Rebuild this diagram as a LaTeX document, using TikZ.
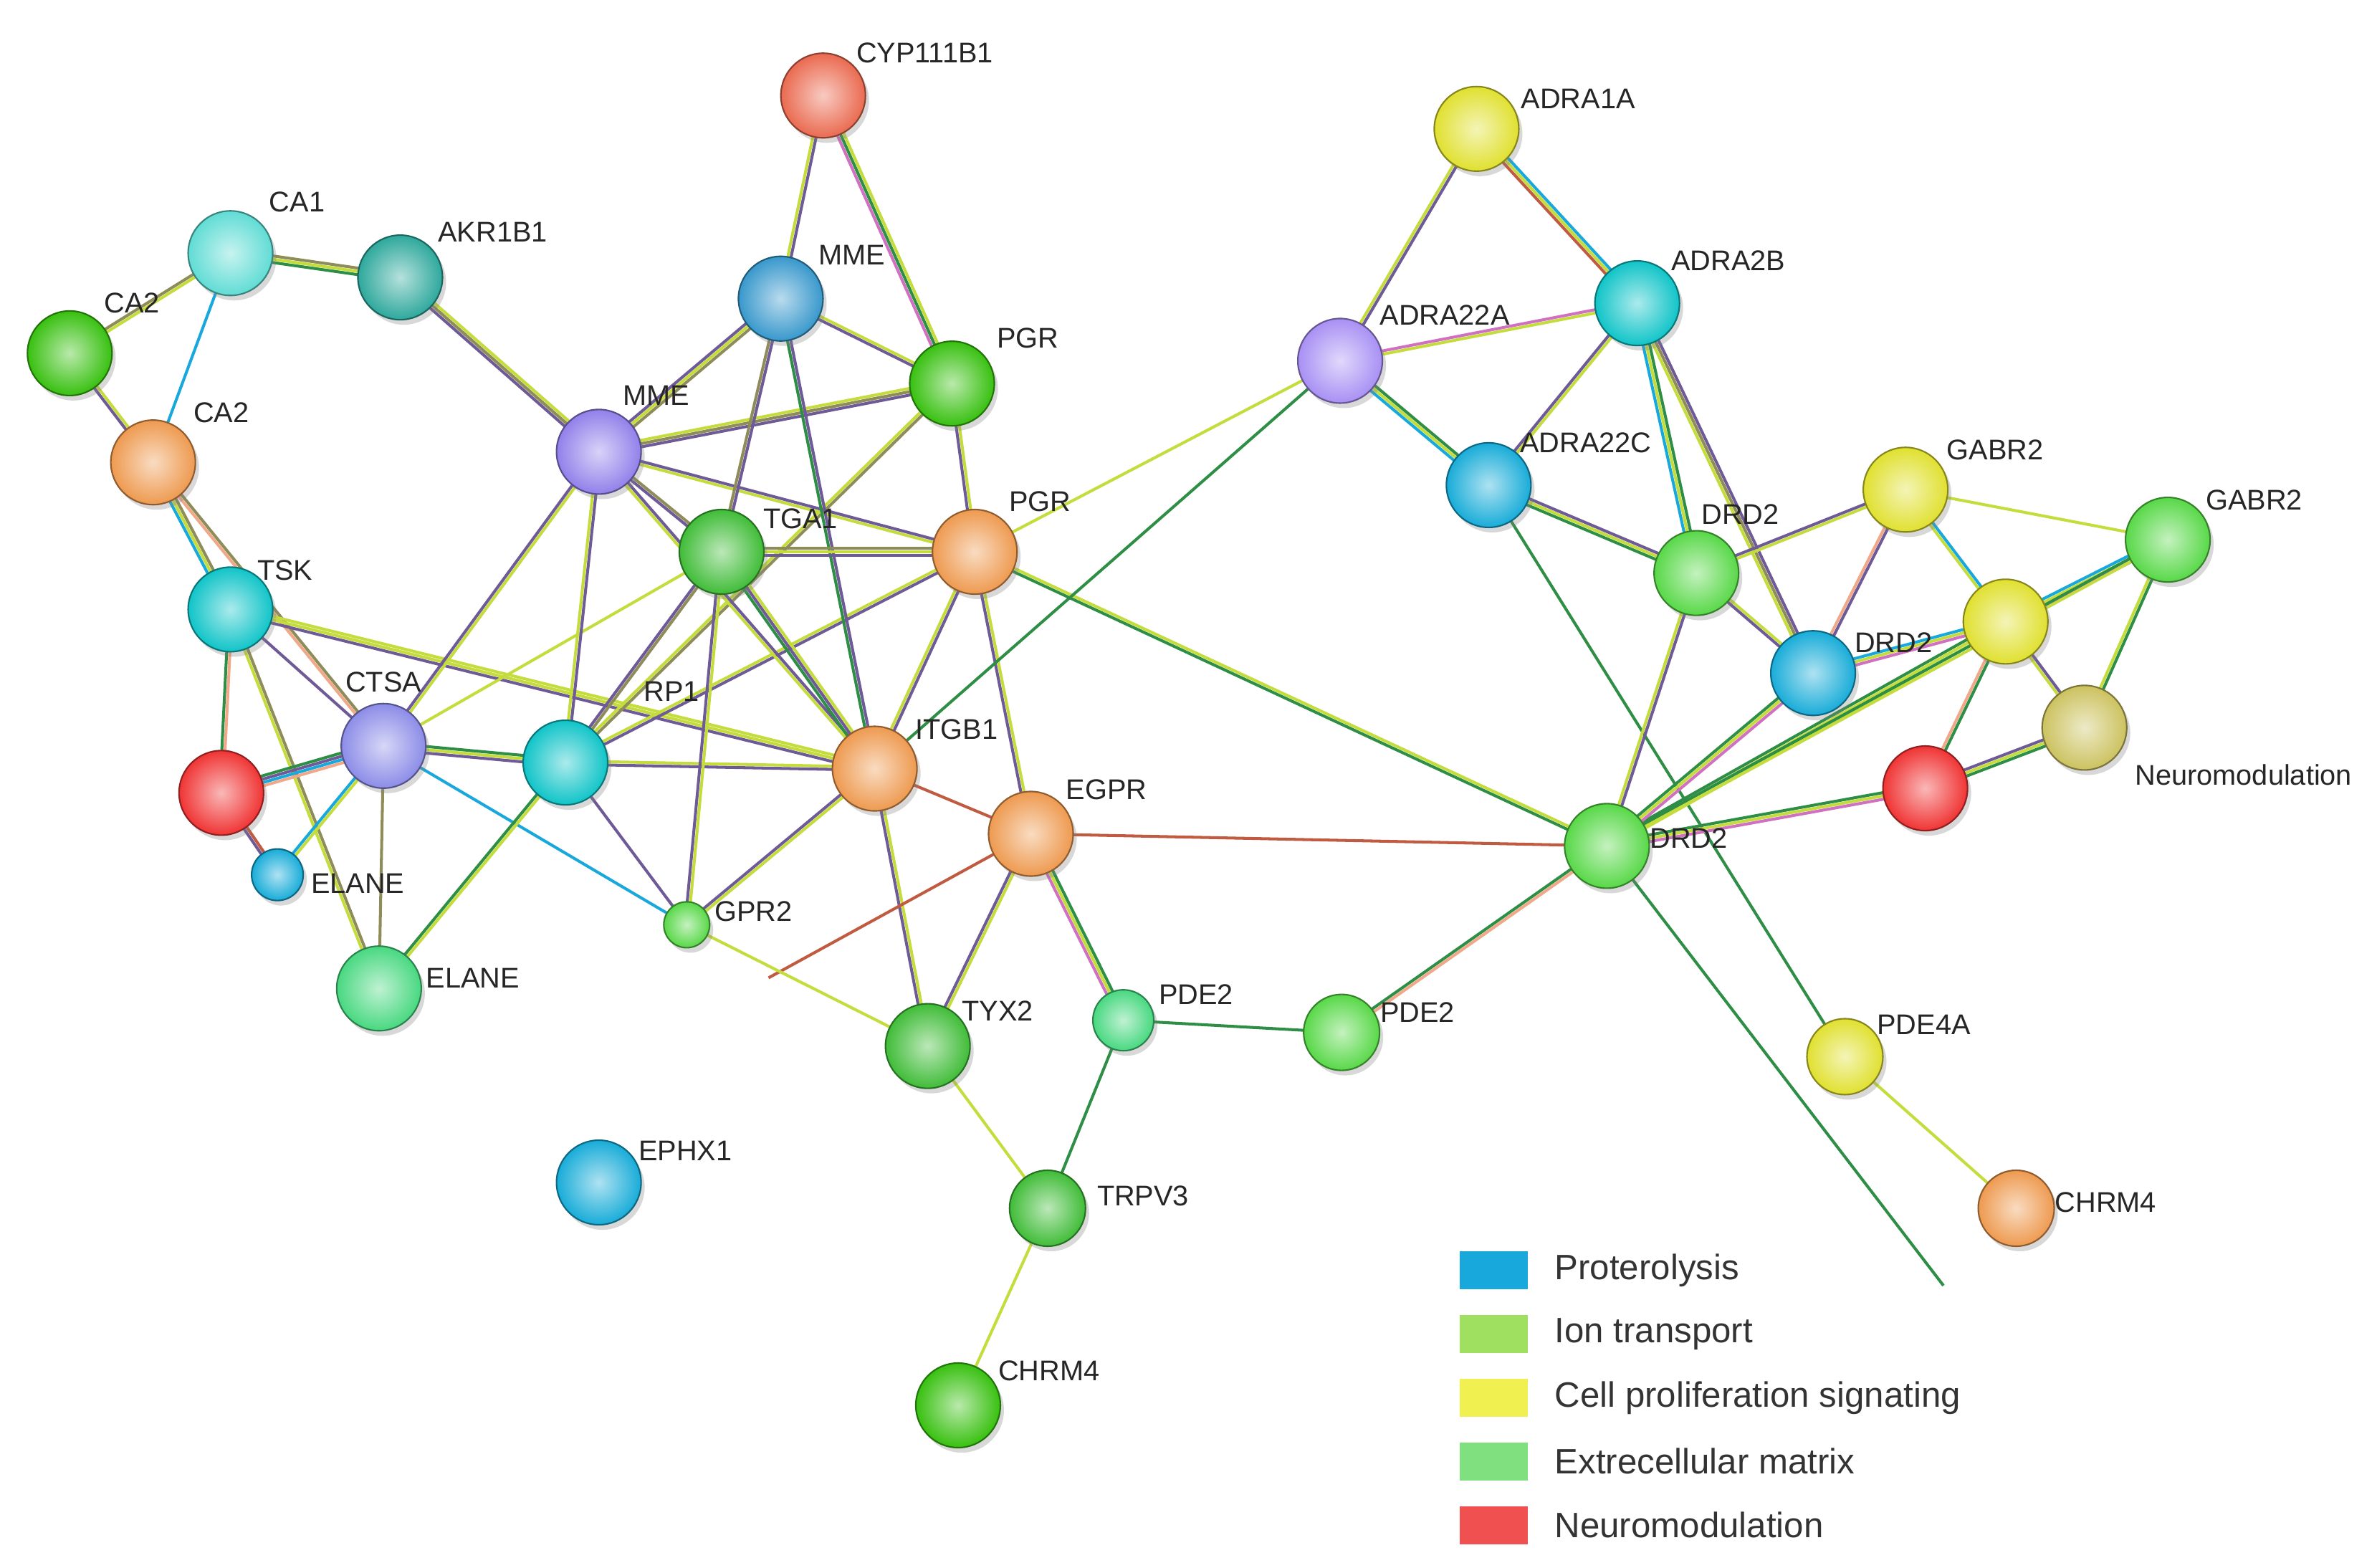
\documentclass[tikz,border=0pt]{standalone}
\usepackage{fontspec}
\setsansfont{Liberation Sans}
\usetikzlibrary{positioning,calc,backgrounds,shadows}

\definecolor{lblue}{HTML}{18A8DC}
\definecolor{lyel}{HTML}{C4DC3C}
\definecolor{lpurp}{HTML}{6E5A96}
\definecolor{ldgreen}{HTML}{2E8E46}
\definecolor{lbrown}{HTML}{C05A40}
\definecolor{lpink}{HTML}{D070C0}
\definecolor{lolive}{HTML}{8E8C58}
\definecolor{lsalm}{HTML}{F0A888}
% node colours
\definecolor{nsalmon}{HTML}{EA6A50}
\definecolor{ncyanl}{HTML}{60DCD4}
\definecolor{nteal}{HTML}{2EA89C}
\definecolor{ngreen}{HTML}{38C010}
\definecolor{norange}{HTML}{EE9A50}
\definecolor{nblue}{HTML}{3898CC}
\definecolor{ngreenm}{HTML}{40BC38}
\definecolor{npurple}{HTML}{9280EA}
\definecolor{nviolet}{HTML}{8C8CE8}
\definecolor{ncyan}{HTML}{10C4C8}
\definecolor{nred}{HTML}{F03434}
\definecolor{nsky}{HTML}{18ACD8}
\definecolor{nmint}{HTML}{48D880}
\definecolor{nlime}{HTML}{58D848}
\definecolor{nyellow}{HTML}{E0E030}
\definecolor{nolive}{HTML}{CCC260}
\definecolor{nlilac}{HTML}{A890F4}

\tikzset{
  gene/.style={circle, inner sep=0pt, minimum size=11.8mm,
    inner color=#1!35!white, outer color=#1, draw=#1!60!black, line width=0.6pt,
    drop shadow={opacity=0.3, shadow xshift=0.5mm, shadow yshift=-0.7mm}},
  lab/.style={font=\sffamily\fontsize{11.3}{13}\selectfont, text=black!85, inner sep=0pt},
  edge/.style={line width=1.15pt},
  key/.style={minimum width=9.5mm, minimum height=5.3mm, inner sep=0pt},
  keytxt/.style={font=\sffamily\fontsize{14}{17}\selectfont, text=black!80, inner sep=0pt}
}

% one link = several thin parallel lines, one per evidence colour
\newcommand\lnk[3]{%
  \foreach \lc [count=\k] in {#3} {\xdef\lnkn{\k}}%
  \foreach \lc [count=\k] in {#3} {%
    \pgfmathsetmacro\lo{(\k-(\lnkn+1)/2)*1.3}%
    \draw[edge, draw=\lc] ($(#1)!\lo pt!90:(#2)$) -- ($(#2)!\lo pt!-90:(#1)$);
  }%
}

\begin{document}
\begin{tikzpicture}[x=0.2115mm, y=-0.2115mm]
  \useasboundingbox (0,0) rectangle (1568,1034);

  % left cluster
  \node[gene=nsalmon] (cyp) at (543,63) {};
  \node[gene=ncyanl] (caone) at (152,167) {};
  \node[gene=nteal] (akr) at (264,183) {};
  \node[gene=ngreen] (catwog) at (46,233) {};
  \node[gene=norange] (catwoo) at (101,305) {};
  \node[gene=nblue] (mmeb) at (515,197) {};
  \node[gene=ngreen] (pgrg) at (628,253) {};
  \node[gene=npurple] (mmep) at (395,298) {};
  \node[gene=ngreenm] (tga) at (476,364) {};
  \node[gene=norange] (pgro) at (643,364) {};
  \node[gene=ncyan] (tsk) at (152,402) {};
  \node[gene=nviolet] (ctsa) at (253,492) {};
  \node[gene=nred] (redl) at (146,523) {};
  \node[gene=ncyan] (rpone) at (373,503) {};
  \node[gene=norange] (itgb) at (577,507) {};
  \node[gene=norange] (egpr) at (680,550) {};
  \node[gene=nsky, minimum size=7.2mm] (elanes) at (183,577) {};
  \node[gene=nmint] (elaneg) at (250,652) {};
  \node[gene=nlime, minimum size=6.4mm] (gpr) at (453,610) {};
  \node[gene=ngreenm] (tyx) at (612,690) {};
  \node[gene=nmint, minimum size=8.5mm] (pdea) at (741,673) {};
  \node[gene=nlime, minimum size=10.6mm] (pdeb) at (885,681) {};
  \node[gene=ngreenm, minimum size=10.6mm] (trpv) at (691,797) {};
  \node[gene=ngreen] (chrm) at (632,927) {};
  \node[gene=nsky] (ephx) at (395,780) {};
  % right cluster
  \node[gene=nyellow] (adraonea) at (974,85) {};
  \node[gene=ncyan] (adrab) at (1080,200) {};
  \node[gene=nlilac] (adraa) at (884,238) {};
  \node[gene=nsky] (adrac) at (982,320) {};
  \node[gene=nlime] (drda) at (1119,378) {};
  \node[gene=nyellow] (gabra) at (1257,323) {};
  \node[gene=nlime] (gabrb) at (1430,356) {};
  \node[gene=nyellow] (drdc) at (1323,410) {};
  \node[gene=nsky] (drdb) at (1196,444) {};
  \node[gene=nolive] (neuro) at (1375,480) {};
  \node[gene=nred] (redr) at (1270,520) {};
  \node[gene=nlime] (drdd) at (1060,558) {};
  \node[gene=nyellow, minimum size=10.6mm] (pdefa) at (1217,697) {};
  \node[gene=norange, minimum size=10.6mm] (chrmr) at (1330,797) {};
  \coordinate (egprend) at (507,645);
  \coordinate (drdend) at (1282,848);

  % labels
  \node[lab] (lcyp) at (610,35) {CYP111B1};
  \node[lab] (lcaone) at (196,133) {CA1};
  \node[lab] (lakr) at (325,153) {AKR1B1};
  \node[lab] (lcatwog) at (87,200) {CA2};
  \node[lab] (lcatwoo) at (146,272) {CA2};
  \node[lab] (lmmeb) at (562,168) {MME};
  \node[lab] (lpgrg) at (678,223) {PGR};
  \node[lab] (lmmep) at (433,261) {MME};
  \node[lab] (ltga) at (528,342) {TGA1};
  \node[lab] (lpgro) at (686,331) {PGR};
  \node[lab] (ltsk) at (188,376) {TSK};
  \node[lab] (lctsa) at (253,450) {CTSA};
  \node[lab] (lrpone) at (443,456) {RP1};
  \node[lab] (litgb) at (631,481) {ITGB1};
  \node[lab] (legpr) at (730,521) {EGPR};
  \node[lab] (lelanes) at (236,583) {ELANE};
  \node[lab] (lelaneg) at (312,645) {ELANE};
  \node[lab] (lgpr) at (497,601) {GPR2};
  \node[lab] (ltyx) at (658,667) {TYX2};
  \node[lab] (lpdea) at (789,656) {PDE2};
  \node[lab] (lpdeb) at (935,668) {PDE2};
  \node[lab] (ltrpv) at (754,789) {TRPV3};
  \node[lab] (lchrm) at (692,904) {CHRM4};
  \node[lab] (lephx) at (452,759) {EPHX1};
  \node[lab] (ladraonea) at (1041,65) {ADRA1A};
  \node[lab] (ladrab) at (1140,172) {ADRA2B};
  \node[lab] (ladraa) at (953,208) {ADRA22A};
  \node[lab] (ladrac) at (1046,292) {ADRA22C};
  \node[lab] (ldrda) at (1148,339) {DRD2};
  \node[lab] (lgabra) at (1316,297) {GABR2};
  \node[lab] (lgabrb) at (1487,330) {GABR2};
  \node[lab] (ldrdb) at (1249,424) {DRD2};
  \node[lab] (lneuro) at (1480,511) {Neuromodulation};
  \node[lab] (ldrdd) at (1114,553) {DRD2};
  \node[lab] (lpdefa) at (1269,676) {PDE4A};
  \node[lab] (lchrmr) at (1389,793) {CHRM4};

  % legend
  \node[key, fill=lblue] (kprot) at (985.5,838) {};
  \node[key, fill={rgb,255:red,160;green,224;blue,96}] (kion) at (985.5,880) {};
  \node[key, fill={rgb,255:red,240;green,240;blue,80}] (kcell) at (985.5,922) {};
  \node[key, fill={rgb,255:red,128;green,224;blue,128}] (kextr) at (985.5,964) {};
  \node[key, fill={rgb,255:red,240;green,80;blue,80}] (kneur) at (985.5,1006) {};
  \node[keytxt, right=3.6mm of kprot] (tprot) {Proterolysis};
  \node[keytxt, right=3.6mm of kion] (tion) {Ion transport};
  \node[keytxt, right=3.6mm of kcell] (tcell) {Cell proliferation signating};
  \node[keytxt, right=3.6mm of kextr] (textr) {Extrecellular matrix};
  \node[keytxt, right=3.6mm of kneur] (tneur) {Neuromodulation};

  \begin{scope}[on background layer]
    \fill[white] (0,0) rectangle (1568,1034);
    \lnk{caone}{akr}{ldgreen,lyel,lolive}
    \lnk{caone}{catwog}{lolive,lyel}
    \lnk{caone}{catwoo}{lblue}
    \lnk{catwog}{catwoo}{lpurp,lyel}
    \lnk{catwoo}{tsk}{lblue,lyel,lolive}
    \lnk{catwoo}{ctsa}{lsalm,lolive}
    \lnk{akr}{mmep}{lpurp,lolive,lyel}
    \lnk{tsk}{redl}{ldgreen,lsalm}
    \lnk{tsk}{ctsa}{lpurp}
    \lnk{tsk}{elaneg}{lyel,lolive}
    \lnk{tsk}{itgb}{lpurp,lyel,lyel}
    \lnk{redl}{ctsa}{lsalm,lblue,lpurp,ldgreen}
    \lnk{redl}{elanes}{lpurp,lbrown}
    \lnk{ctsa}{elanes}{lblue,lyel}
    \lnk{ctsa}{elaneg}{lolive}
    \lnk{ctsa}{rpone}{lpurp,lyel,ldgreen}
    \lnk{ctsa}{mmep}{lyel,lpurp}
    \lnk{ctsa}{tga}{lyel}
    \lnk{ctsa}{gpr}{lblue}
    \lnk{rpone}{elaneg}{ldgreen,lyel}
    \lnk{rpone}{gpr}{lpurp}
    \lnk{rpone}{itgb}{lpurp,lyel}
    \lnk{rpone}{mmep}{lpurp,lyel}
    \lnk{rpone}{tga}{lolive,lpurp}
    \lnk{rpone}{pgro}{lpurp,lyel}
    \lnk{rpone}{pgrg}{lolive,lyel}
    \lnk{mmep}{mmeb}{lolive,lyel,lpurp}
    \lnk{mmep}{pgrg}{lpurp,lolive,lyel}
    \lnk{mmep}{pgro}{lyel,lpurp}
    \lnk{mmep}{tga}{lpurp,lolive}
    \lnk{mmep}{itgb}{lyel,lpurp}
    \lnk{mmeb}{cyp}{lpurp,lyel}
    \lnk{mmeb}{pgrg}{lpurp,lyel}
    \lnk{mmeb}{tga}{lolive,lpurp}
    \lnk{mmeb}{itgb}{ldgreen,lpurp}
    \lnk{cyp}{pgrg}{lpink,ldgreen,lyel}
    \lnk{pgrg}{pgro}{lpurp,lyel}
    \lnk{tga}{pgro}{lpurp,lyel,lolive}
    \lnk{tga}{itgb}{ldgreen,lpurp,lyel}
    \lnk{tga}{gpr}{lpurp,lyel}
    \lnk{pgro}{itgb}{lyel,lpurp}
    \lnk{pgro}{egpr}{lpurp,lyel}
    \lnk{pgro}{drdd}{ldgreen,lyel}
    \lnk{pgro}{adraa}{lyel}
    \lnk{itgb}{adraa}{ldgreen}
    \lnk{itgb}{egpr}{lbrown}
    \lnk{itgb}{gpr}{lpurp,lyel}
    \lnk{itgb}{tyx}{lpurp,lyel}
    \lnk{egpr}{drdd}{lbrown}
    \lnk{egpr}{tyx}{lpurp,lyel}
    \lnk{egpr}{pdea}{lpink,lyel,ldgreen}
    \lnk{egpr}{egprend}{lbrown}
    \lnk{gpr}{tyx}{lyel}
    \lnk{tyx}{trpv}{lyel}
    \lnk{pdea}{trpv}{ldgreen}
    \lnk{pdea}{pdeb}{ldgreen}
    \lnk{pdeb}{drdd}{lsalm,ldgreen}
    \lnk{trpv}{chrm}{lyel}
    \lnk{adraonea}{adraa}{lyel,lpurp}
    \lnk{adraonea}{adrab}{lbrown,lyel,lblue}
    \lnk{adraa}{adrab}{lyel,lpink}
    \lnk{adraa}{adrac}{lblue,lyel,ldgreen}
    \lnk{adrac}{adrab}{lyel,lpurp}
    \lnk{adrab}{drda}{lblue,lyel,ldgreen}
    \lnk{adrab}{drdb}{lyel,lolive,lpurp}
    \lnk{adrac}{drda}{ldgreen,lyel,lpurp}
    \lnk{adrac}{pdefa}{ldgreen}
    \lnk{drda}{gabra}{lyel,lpurp}
    \lnk{drda}{drdb}{lpurp,lyel}
    \lnk{drda}{drdd}{lyel,lpurp}
    \lnk{gabra}{drdb}{lsalm,lpurp}
    \lnk{gabra}{drdc}{lyel,lblue}
    \lnk{gabra}{gabrb}{lyel}
    \lnk{gabrb}{drdc}{lblue,lyel,lpink}
    \lnk{gabrb}{neuro}{lyel,ldgreen}
    \lnk{drdc}{neuro}{lyel,lpurp}
    \lnk{drdc}{drdb}{lblue,lyel,lpink}
    \lnk{drdc}{redr}{lsalm,ldgreen}
    \lnk{drdc}{drdd}{ldgreen,lyel,lyel}
    \lnk{neuro}{redr}{lpurp,lyel,ldgreen}
    \lnk{redr}{drdd}{ldgreen,lyel,lpink}
    \lnk{drdb}{drdd}{ldgreen,lyel,lpink}
    \lnk{gabrb}{drdd}{ldgreen,lyel}
    \lnk{drdd}{drdend}{ldgreen}
    \lnk{pdefa}{chrmr}{lyel}
  \end{scope}
\end{tikzpicture}
\end{document}
